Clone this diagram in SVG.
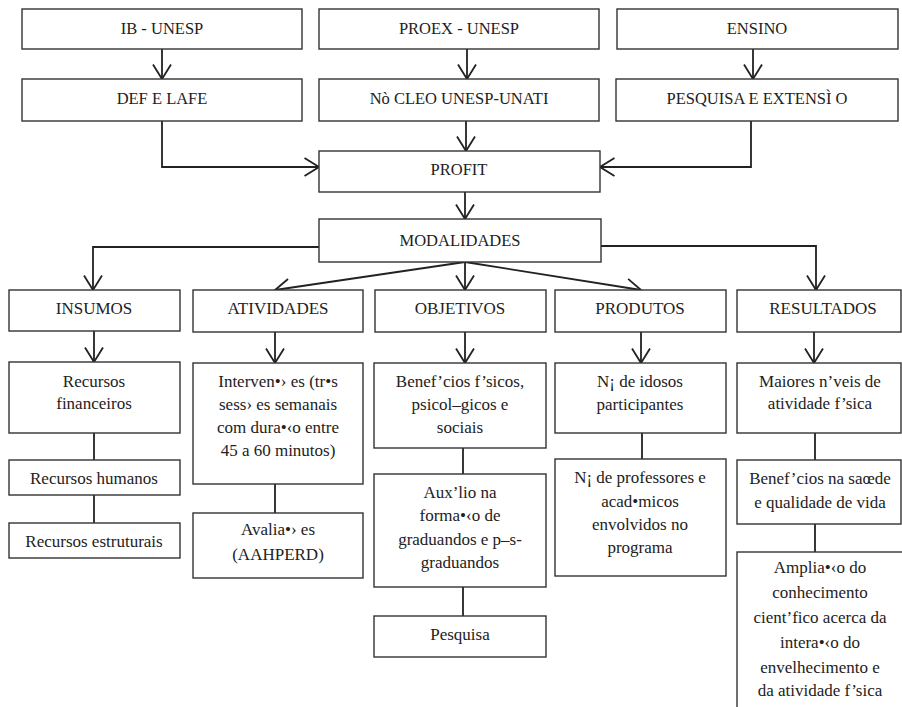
<svg xmlns="http://www.w3.org/2000/svg" width="902" height="707" viewBox="0 0 902 707">
<style>
  .box { fill: #ffffff; stroke: #333333; stroke-width: 1.4; }
  text { font-family: 'Liberation Serif', 'Times New Roman', Times, Tinos, 'Noto Serif', 'Nimbus Roman', 'Nimbus Roman No9 L', FreeSerif, 'DejaVu Serif', 'Droid Serif', 'PT Serif', Georgia, serif; fill: #222222; text-anchor: middle; }
  .t { font-size: 17px; }
  .h { font-size: 16.5px; }
  .c { fill: none; stroke: #222222; stroke-width: 1.8; }
  .ca { fill: none; stroke: #222222; stroke-width: 1.8; marker-end: url(#arr); }
</style>
<defs>
  <marker id="arr" viewBox="0 0 16 20" refX="15" refY="10" markerWidth="16" markerHeight="20" markerUnits="userSpaceOnUse" orient="auto">
    <path d="M0.5,1 L15,10 L0.5,19" fill="none" stroke="#222222" stroke-width="1.8"/>
  </marker>
</defs>
<rect width="902" height="707" fill="#ffffff"/>

<g id="connectors">
  <line class="ca" x1="162" y1="49" x2="162" y2="79"/>
  <line class="ca" x1="467" y1="49" x2="467" y2="79"/>
  <line class="ca" x1="753" y1="49" x2="753" y2="79"/>
  <polyline class="ca" points="162,121 162,167 319,167"/>
  <line class="ca" x1="466" y1="121" x2="466" y2="151"/>
  <polyline class="ca" points="751,121 751,167 600,167"/>
  <line class="ca" x1="465" y1="192" x2="465" y2="219"/>
  <polyline class="ca" points="319,247 93,247 93,290"/>
  <line class="ca" x1="465" y1="262" x2="275" y2="290"/>
  <line class="ca" x1="465" y1="262" x2="465" y2="290"/>
  <line class="ca" x1="465" y1="262" x2="641" y2="290"/>
  <polyline class="ca" points="601,246 816,246 816,290"/>
  <line class="ca" x1="94" y1="331" x2="94" y2="362"/>
  <line class="ca" x1="275" y1="332" x2="275" y2="363"/>
  <line class="ca" x1="465" y1="332" x2="465" y2="363"/>
  <line class="ca" x1="641" y1="332" x2="641" y2="363"/>
  <line class="ca" x1="814" y1="332" x2="814" y2="363"/>
  <line class="c" x1="94" y1="433" x2="94" y2="460"/>
  <line class="c" x1="94" y1="495" x2="94" y2="523"/>
  <line class="c" x1="275" y1="484" x2="275" y2="513"/>
  <line class="c" x1="463" y1="448" x2="463" y2="474"/>
  <line class="c" x1="463" y1="587" x2="463" y2="616"/>
  <line class="c" x1="642" y1="433" x2="642" y2="459"/>
  <line class="c" x1="815" y1="433" x2="815" y2="460"/>
  <line class="c" x1="815" y1="524" x2="815" y2="552"/>
</g>

<g id="ib-unesp"><rect class="box" x="22" y="9" width="280" height="40"/><text class="h" x="162" y="34">IB - UNESP</text></g>
<g id="proex-unesp"><rect class="box" x="319" y="9" width="280" height="40"/><text class="h" x="459" y="34">PROEX - UNESP</text></g>
<g id="ensino"><rect class="box" x="617" y="9" width="281" height="40"/><text class="h" x="757" y="34">ENSINO</text></g>

<g id="def-lafe"><rect class="box" x="22" y="79" width="280" height="42"/><text class="h" x="162" y="104">DEF E LAFE</text></g>
<g id="nucleo"><rect class="box" x="319" y="79" width="280" height="42"/><text class="h" x="459" y="104">Nò CLEO UNESP-UNATI</text></g>
<g id="pesquisa-extensao"><rect class="box" x="616" y="79" width="282" height="42"/><text class="h" x="757" y="104">PESQUISA E EXTENSÌ O</text></g>

<g id="profit"><rect class="box" x="319" y="151" width="281" height="41"/><text class="h" x="459" y="175">PROFIT</text></g>
<g id="modalidades"><rect class="box" x="319" y="219" width="282" height="43"/><text class="h" x="460" y="246">MODALIDADES</text></g>

<g id="insumos"><rect class="box" x="9" y="290" width="171" height="41"/><text class="t" x="94" y="314">INSUMOS</text></g>
<g id="atividades"><rect class="box" x="193" y="290" width="170" height="42"/><text class="t" x="278" y="314">ATIVIDADES</text></g>
<g id="objetivos"><rect class="box" x="375" y="290" width="171" height="42"/><text class="t" x="460" y="314">OBJETIVOS</text></g>
<g id="produtos"><rect class="box" x="555" y="290" width="171" height="42"/><text class="t" x="640" y="314">PRODUTOS</text></g>
<g id="resultados"><rect class="box" x="737" y="290" width="164" height="42"/><text class="t" x="823" y="314">RESULTADOS</text></g>

<g id="recursos-financeiros"><rect class="box" x="9" y="362" width="171" height="71"/>
  <text class="t" x="94" y="387">Recursos</text><text class="t" x="94" y="409">financeiros</text></g>
<g id="recursos-humanos"><rect class="box" x="9" y="460" width="171" height="35"/><text class="t" x="94" y="484">Recursos humanos</text></g>
<g id="recursos-estruturais"><rect class="box" x="9" y="523" width="171" height="35"/><text class="t" x="94" y="547">Recursos estruturais</text></g>

<g id="intervencoes"><rect class="box" x="193" y="363" width="170" height="121"/>
  <text class="t" x="278" y="387">Interven•› es (tr•s</text>
  <text class="t" x="278" y="410">sess› es semanais</text>
  <text class="t" x="278" y="433">com dura•‹o entre</text>
  <text class="t" x="278" y="456">45 a 60 minutos)</text></g>
<g id="avaliacoes"><rect class="box" x="193" y="513" width="170" height="65"/>
  <text class="t" x="278" y="535">Avalia•› es</text><text class="t" x="278" y="560">(AAHPERD)</text></g>

<g id="beneficios"><rect class="box" x="374" y="363" width="172" height="85"/>
  <text class="t" x="460" y="387">Benef’cios f’sicos,</text>
  <text class="t" x="460" y="410">psicol–gicos e</text>
  <text class="t" x="460" y="433">sociais</text></g>
<g id="auxilio"><rect class="box" x="374" y="474" width="172" height="113"/>
  <text class="t" x="460" y="498">Aux’lio na</text>
  <text class="t" x="460" y="521">forma•‹o de</text>
  <text class="t" x="460" y="545">graduandos e p–s-</text>
  <text class="t" x="460" y="568">graduandos</text></g>
<g id="pesquisa"><rect class="box" x="374" y="616" width="172" height="41"/><text class="t" x="460" y="640">Pesquisa</text></g>

<g id="n-idosos"><rect class="box" x="555" y="363" width="171" height="70"/>
  <text class="t" x="640" y="387">N¡ de idosos</text><text class="t" x="640" y="410">participantes</text></g>
<g id="n-professores"><rect class="box" x="555" y="459" width="171" height="117"/>
  <text class="t" x="640" y="483">N¡ de professores e</text>
  <text class="t" x="640" y="507">acad•micos</text>
  <text class="t" x="640" y="530">envolvidos no</text>
  <text class="t" x="640" y="553">programa</text></g>

<g id="maiores-niveis"><rect class="box" x="737" y="363" width="164" height="70"/>
  <text class="t" x="820" y="387">Maiores n’veis de</text><text class="t" x="820" y="409">atividade f’sica</text></g>
<g id="beneficios-saude"><rect class="box" x="737" y="460" width="164" height="64"/>
  <text class="t" x="820" y="484">Benef’cios na saœde</text><text class="t" x="820" y="508">e qualidade de vida</text></g>
<g id="ampliacao"><rect class="box" x="737" y="552" width="170" height="170"/>
  <text class="t" x="820" y="573">Amplia•‹o do</text>
  <text class="t" x="820" y="598">conhecimento</text>
  <text class="t" x="820" y="623">cient’fico acerca da</text>
  <text class="t" x="820" y="648">intera•‹o do</text>
  <text class="t" x="820" y="673">envelhecimento e</text>
  <text class="t" x="820" y="696">da atividade f’sica</text></g>
</svg>
